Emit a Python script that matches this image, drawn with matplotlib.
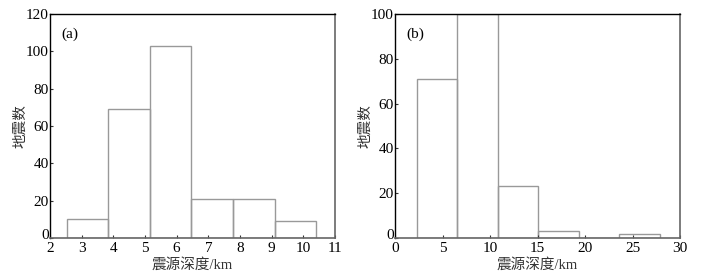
# -*- coding: utf-8 -*-
import numpy as np
import matplotlib
matplotlib.use('Agg')
import matplotlib.pyplot as plt
import matplotlib.transforms as mtransforms

plt.rcParams['font.family'] = ['Liberation Serif', 'Noto Sans CJK SC']
plt.rcParams['font.size'] = 10

# (a) focal depth histogram
edgesA = [2.53, 3.84, 5.15, 6.46, 7.77, 9.09, 10.4]
countsA = [10, 69, 103, 21, 21, 9]
ticksA = [2, 3, 4, 5, 6, 7, 8, 9, 10, 11]

# (b) focal depth histogram
edgesB = [2.28, 6.53, 10.8, 15.05, 19.33, 23.58, 27.85]
countsB = [71, 100, 23, 3, 0, 2]
ticksB = [0, 5, 10, 15, 20, 25, 30]

xLabel = '震源深度/km'
yLabel = '地震数'


def drawHist(fig, ax, edges, counts, xlim, ylim, xticks, yticks, tag):
    edges = np.array(edges)
    ax.bar(edges[:-1], counts, width=np.diff(edges), align='edge',
           fill=False, edgecolor='#999999', linewidth=1.0)
    ax.set_xlim(xlim)
    ax.set_ylim(ylim)
    ax.set_xticks(xticks)
    ax.set_yticks(yticks)
    ax.tick_params(direction='in', length=2.5, width=0.8,
                   colors='#333333', labelcolor='black', labelsize=11)
    ax.tick_params(axis='x', pad=3)
    ax.tick_params(axis='y', pad=1)
    # lift the bottom "0" a little so it clears the x tick labels
    lbl = ax.get_yticklabels()[0]
    lbl.set_transform(lbl.get_transform() +
                      mtransforms.ScaledTranslation(0, 3 / 72, fig.dpi_scale_trans))
    for s in ['left', 'top']:
        ax.spines[s].set_color('black')
        ax.spines[s].set_linewidth(1.0)
    for s in ['right', 'bottom']:
        ax.spines[s].set_color('#666666')
        ax.spines[s].set_linewidth(1.2)
    ax.set_xlabel(xLabel, labelpad=2, fontsize=10.5, color='#333333')
    ax.set_ylabel(yLabel, labelpad=-1, fontsize=10.5, color='#333333')
    ax.text(0.04, 0.91, tag, transform=ax.transAxes, va='center', ha='left',
            fontsize=11)


fig = plt.figure(figsize=(7.05, 2.75), dpi=100)
axA = fig.add_axes([0.0709, 0.1345, 0.4043, 0.8145])
axB = fig.add_axes([0.5603, 0.1345, 0.4043, 0.8145])

drawHist(fig, axA, edgesA, countsA, (2, 11), (0, 120), ticksA,
         [0, 20, 40, 60, 80, 100, 120], '(a)')
drawHist(fig, axB, edgesB, countsB, (0, 30), (0, 100), ticksB,
         [0, 20, 40, 60, 80, 100], '(b)')

fig.savefig('out.png', dpi=100)
